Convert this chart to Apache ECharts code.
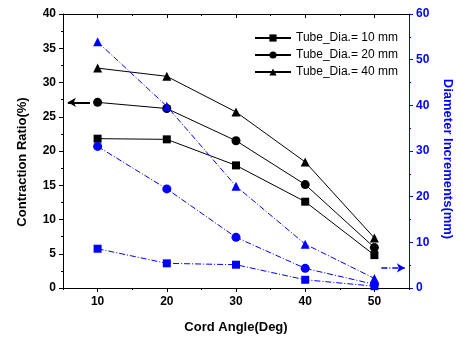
<!DOCTYPE html>
<html>
<head>
<meta charset="utf-8">
<script src="https://cdn.jsdelivr.net/npm/echarts@6/dist/echarts.min.js"></script>
<style>html,body{margin:0;padding:0;background:#fff}#c{width:462px;height:341px}</style>
</head>
<body>
<div id="c"></div>
<script>
var angles = [10, 20, 30, 40, 50];
var xTickLabels = [10, 20, 30, 40, 50];
var xMinorTicks = [5, 15, 25, 35, 45, 55];
var names = ['Tube_Dia.= 10 mm', 'Tube_Dia.= 20 mm', 'Tube_Dia.= 40 mm'];
var contraction10 = [21.8, 21.7, 17.9, 12.6, 4.8];
var contraction20 = [27.1, 26.2, 21.5, 15.1, 5.9];
var contraction40 = [32.1, 30.9, 25.7, 18.4, 7.3];
var increment10 = [8.6, 5.4, 5.1, 1.8, 0.4];
var increment20 = [31.0, 21.7, 11.1, 4.3, 0.8];
var increment40 = [53.9, 39.8, 22.3, 9.6, 2.1];
var leftArrow = [[8.9, 27.1], [5.7, 27.1]];
var rightArrow = [[51.0, 4.4], [54.4, 4.4]];

function pairs(ys) { return angles.map(function (a, i) { return [a, ys[i]]; }); }

var FONT = 'Liberation Sans, Arial, sans-serif';
var BLUE = '#0000ff';
var dashDot = [6, 2, 1, 2];

function xAx(pos, ticks, len, inside, showLine, showLabel, name) {
  var o = {
    type: 'value', min: 5, max: 55, interval: 5, position: pos,
    axisLine: { show: showLine, onZero: false, lineStyle: { color: '#000', width: 1 } },
    axisTick: { show: true, inside: inside, length: len, customValues: ticks, lineStyle: { color: '#000' } },
    axisLabel: { show: showLabel, customValues: xTickLabels, margin: 8, color: '#000', fontWeight: 'bold', fontSize: 12, fontFamily: FONT },
    splitLine: { show: false }
  };
  if (name) {
    o.name = name; o.nameLocation = 'middle'; o.nameGap = 33;
    o.nameTextStyle = { color: '#000', fontWeight: 'bold', fontSize: 13, fontFamily: FONT };
  }
  return o;
}

var blackSyms = ['rect', 'circle', 'triangle'];
var blackSizes = [8, 9, 9];
var cData = [contraction10, contraction20, contraction40];
var iData = [increment10, increment20, increment40];

var series = [];
for (var i = 0; i < 3; i++) {
  series.push({
    name: names[i], type: 'line', xAxisIndex: 0, yAxisIndex: 0,
    data: pairs(cData[i]), symbol: blackSyms[i], symbolSize: blackSizes[i],
    lineStyle: { color: '#000', width: 1 }, itemStyle: { color: '#000' },
    markLine: i === 1 ? {
      silent: true, symbol: ['none', 'arrow'], symbolSize: [7, 8],
      label: { show: false }, lineStyle: { color: '#000', width: 2, type: 'solid' },
      data: [[{ coord: leftArrow[0] }, { coord: leftArrow[1] }]]
    } : undefined
  });
}
for (var j = 0; j < 3; j++) {
  series.push({
    name: 'inc' + j, type: 'line', xAxisIndex: 0, yAxisIndex: 1,
    data: pairs(iData[j]), symbol: blackSyms[j], symbolSize: blackSizes[j],
    lineStyle: { color: BLUE, width: 1, type: dashDot }, itemStyle: { color: BLUE },
    markLine: j === 0 ? {
      silent: true, symbol: ['none', 'arrow'], symbolSize: [7, 8],
      label: { show: false }, lineStyle: { color: BLUE, width: 1.5, type: dashDot },
      data: [[{ coord: rightArrow[0] }, { coord: rightArrow[1] }]]
    } : undefined
  });
}

var chart = echarts.init(document.getElementById('c'), null, { renderer: 'canvas' });
chart.setOption({
  animation: false,
  backgroundColor: '#fff',
  grid: { left: 63, top: 14, right: 49, bottom: 53, containLabel: false },
  legend: {
    data: names, orient: 'vertical', left: 249, top: 27,
    itemWidth: 36, itemHeight: 9, itemGap: 5,
    textStyle: { color: '#000', fontSize: 12, fontFamily: FONT }
  },
  xAxis: [
    xAx('bottom', xTickLabels, 4, false, true, true, 'Cord Angle(Deg)'),
    xAx('bottom', xMinorTicks, 2, false, false, false),
    xAx('top', xTickLabels, 4, true, true, false),
    xAx('top', xMinorTicks, 2, true, false, false)
  ],
  yAxis: [
    {
      type: 'value', min: 0, max: 40, interval: 5, position: 'left',
      name: 'Contraction Ratio(%)', nameLocation: 'middle', nameGap: 34,
      nameTextStyle: { color: '#000', fontWeight: 'bold', fontSize: 13, fontFamily: FONT, padding: [0, 22, 0, 0] },
      axisLine: { show: true, lineStyle: { color: '#000' } },
      axisTick: { show: true, length: 4, lineStyle: { color: '#000' } },
      minorTick: { show: true, splitNumber: 2, length: 2, lineStyle: { color: '#000' } },
      axisLabel: { margin: 7, color: '#000', fontWeight: 'bold', fontSize: 12, fontFamily: FONT },
      splitLine: { show: false }
    },
    {
      type: 'value', min: 0, max: 60, interval: 10, position: 'right',
      name: 'Diameter Increments(mm)', nameLocation: 'middle', nameGap: 32,
      nameRotate: -90,
      nameTextStyle: { color: BLUE, fontWeight: 'bold', fontSize: 13, fontFamily: FONT, padding: [0, 0, 0, 16] },
      axisLine: { show: true, lineStyle: { color: BLUE } },
      axisTick: { show: true, length: 4, lineStyle: { color: BLUE } },
      minorTick: { show: true, splitNumber: 2, length: 2, lineStyle: { color: BLUE } },
      axisLabel: { margin: 7, color: BLUE, fontWeight: 'bold', fontSize: 12, fontFamily: FONT },
      splitLine: { show: false }
    }
  ],
  series: series
});
</script>
</body>
</html>
